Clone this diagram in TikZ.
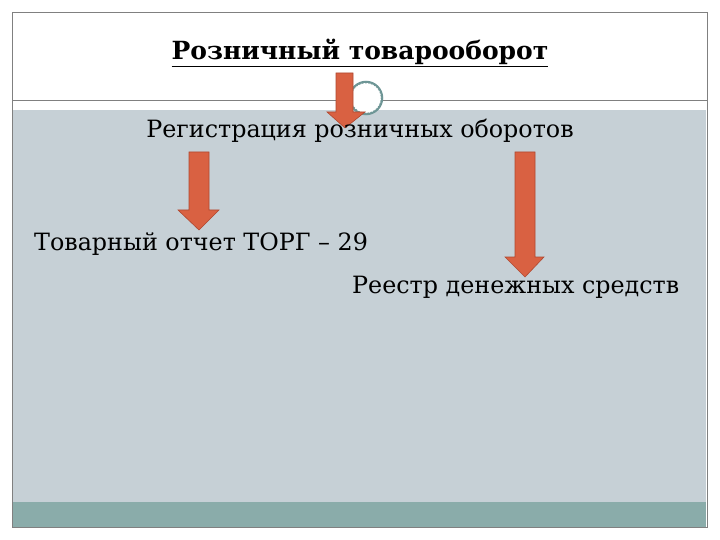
\documentclass[tikz,border=0pt]{standalone}
\usepackage{fontspec}
\setmainfont{DejaVu Serif}
\definecolor{slidegray}{RGB}{198,208,214}
\definecolor{bandteal}{RGB}{138,172,170}
\definecolor{arrowred}{RGB}{217,97,66}
\definecolor{arrowedge}{RGB}{175,72,48}
\definecolor{ringteal}{RGB}{110,150,150}
\tikzset{
  arrowbody/.style={fill=arrowred,draw=arrowedge,line width=0.6pt},
  slidetext/.style={color=black,font=\fontsize{23.8}{28}\selectfont,inner sep=0pt}
}
\begin{document}
\begin{tikzpicture}[x=1pt,y=-1pt]
\useasboundingbox[fill=white] (0,0) rectangle (720,540);
% background of the slide
\fill[slidegray] (13,110) rectangle (706,502);
\fill[bandteal] (13,502) rectangle (706,527);
\draw[black!50,line width=0.8pt] (12,12) rectangle (707,527);
\draw[black!50,line width=0.8pt] (12,100) -- (707,100);
% ring on the line
\node[circle,minimum size=32pt,fill=white,draw=ringteal,line width=2.5pt] (ring) at (366,98) {};
\draw[white,line width=0.7pt,dash pattern=on 1.5pt off 1.5pt] (ring.center) circle (14.7pt);
% arrows
\draw[arrowbody] (336,73) -- (353,73) -- (353,112) -- (365,112) -- (345,128) -- (327,112) -- (336,112) -- cycle;
\draw[arrowbody] (189,152) -- (209,152) -- (209,210) -- (219,210) -- (199,230) -- (178,210) -- (189,210) -- cycle;
\draw[arrowbody] (515,152) -- (535,152) -- (535,257) -- (544,257) -- (525,277) -- (505,257) -- (515,257) -- cycle;
% texts
\node[slidetext,anchor=base,font=\fontsize{25}{30}\selectfont\bfseries] (title) at (360,60) {\underline{Розничный товарооборот}};
\node[slidetext,anchor=base] (reg) at (360,138) {Регистрация розничных оборотов};
\node[slidetext,anchor=base west] (torg) at (34,251) {Товарный отчет ТОРГ – 29};
\node[slidetext,anchor=base west] (reestr) at (352,293) {Реестр денежных средств};
\end{tikzpicture}
\end{document}
